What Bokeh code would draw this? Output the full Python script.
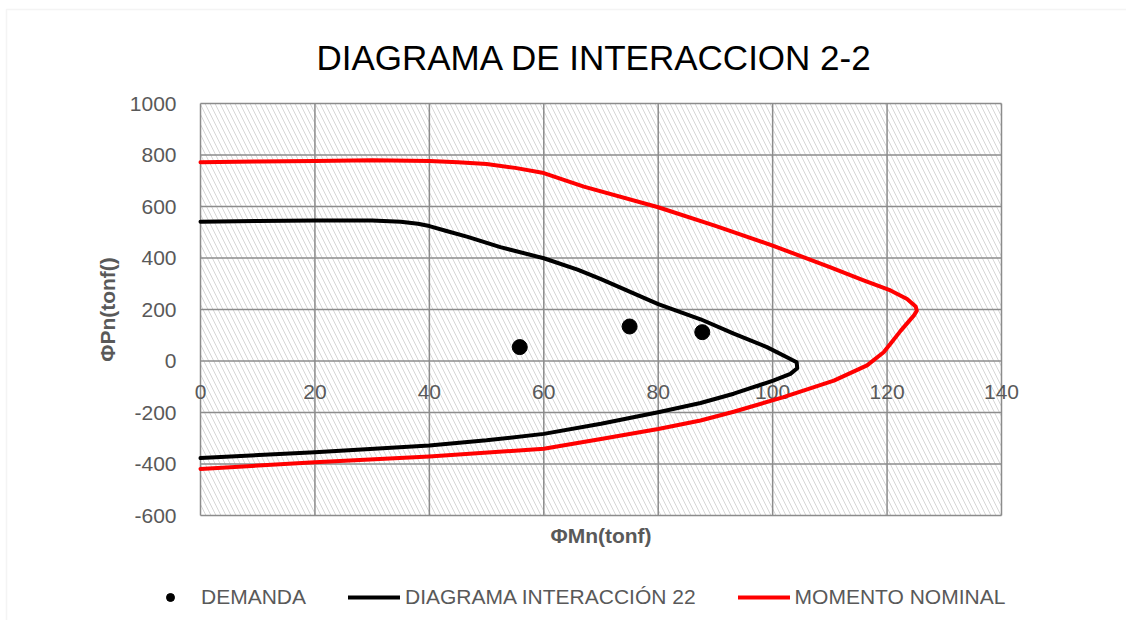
import math
from bokeh.plotting import figure
from bokeh.models import Range1d, BoxAnnotation, Legend, LegendItem
from bokeh.embed import file_html
from bokeh.resources import INLINE
from bokeh.core.properties import value

FONT = "Liberation Sans"
GRAY_TXT = "#595959"
GRID = "#8c8c8c"

# ---- data ----
x_ticks = [0, 20, 40, 60, 80, 100, 120, 140]
y_ticks = [-600, -400, -200, 0, 200, 400, 600, 800, 1000]

demanda_m = [55.8, 75.0, 87.7]
demanda_p = [54, 134, 112]

interaccion_m = [0, 10, 20, 30, 35, 38, 40, 43, 46.7, 52.4, 60, 65.9, 70, 80, 87.4, 93.2,
                 99.0, 103.1, 104.2, 104.3, 103.1, 100.1, 93.2, 87.4, 80, 70, 60, 50,
                 40, 20, 0]
interaccion_p = [541, 544, 546, 546, 541, 533, 524, 505, 482, 442, 399, 355, 318, 221, 162,
                 106, 54, 8, -5, -28, -50, -76, -127, -163, -199, -244, -283, -308,
                 -328, -354, -377]

nominal_m = [0, 10, 20, 30, 40, 45, 50, 55, 60, 67, 80, 90, 100, 110, 115.9, 120.6,
             123.5, 125.0, 125.2, 124.7, 122.4, 120.8, 119.4, 116.5, 110.7, 101.9,
             93.2, 87.4, 80, 70, 60, 40, 20, 0]
nominal_p = [772, 775, 777, 780, 777, 772, 765, 750, 730, 677, 597, 525, 448, 365, 313, 274,
             241, 212, 195, 177, 118, 73, 34, -17, -76, -140,
             -197, -231, -264, -303, -341, -371, -393, -419]

title_text = "DIAGRAMA DE INTERACCION 2-2"
x_title = "ΦMn(tonf)"
y_title = "ΦPn(tonf()"
legend_labels = ["DEMANDA", "DIAGRAMA INTERACCIÓN 22", "MOMENTO NOMINAL"]

# ---- layout geometry (pixels) ----
W, H = 1126, 620
PL, PR, PT, PB = 200, 1001, 103, 515       # plot-area box on the canvas
X0, X1 = x_ticks[0], x_ticks[-1]
Y0, Y1 = y_ticks[0], y_ticks[-1]
kx = (X1 - X0) / (PR - PL)
ky = (Y1 - Y0) / (PB - PT)
XS, XE = X0 - PL * kx, X0 + (W - PL) * kx
YE, YS = Y1 + PT * ky, Y1 - (H - PT) * ky

p = figure(width=W, height=H, x_range=Range1d(XS, XE), y_range=Range1d(YS, YE),
           output_backend="svg", toolbar_location=None, title=None,
           x_axis_location=None, y_axis_location=None,
           min_border_left=0, min_border_right=0, min_border_top=0, min_border_bottom=0)
p.grid.visible = False
p.outline_line_color = None

# faint chart-area border (Excel), left/top edges visible
p.add_layout(BoxAnnotation(left=XS + 6 * kx, right=XE + 20 * kx,
                           top=YE - 9 * ky, bottom=YS - 20 * ky,
                           fill_color=None, line_color="#d9d9d9", line_width=1.5,
                           level="image"))

# hatched plot area
p.add_layout(BoxAnnotation(left=X0, right=X1, bottom=Y0, top=Y1,
                           fill_color=None, line_color=None,
                           hatch_pattern="\\", hatch_color="#d6d6d6",
                           hatch_scale=10, hatch_weight=1, level="image"))

# gridlines (incl. plot-area edges)
p.segment(x0=x_ticks, y0=[Y0] * len(x_ticks), x1=x_ticks, y1=[Y1] * len(x_ticks),
          line_color=GRID, line_width=1.5)
p.segment(x0=[X0] * len(y_ticks), y0=y_ticks, x1=[X1] * len(y_ticks), y1=y_ticks,
          line_color=GRID, line_width=1.5)

txt = dict(text_font=value(FONT), text_font_size="21px", text_color=GRAY_TXT)

# y tick labels
p.text(x=[X0] * len(y_ticks), y=y_ticks, text=[str(v) for v in y_ticks],
       text_align="right", text_baseline="middle", x_offset=-24, **txt)
# x tick labels crossing at y = 0
p.text(x=x_ticks, y=[0] * len(x_ticks), text=[str(v) for v in x_ticks],
       text_align="center", text_baseline="middle", y_offset=31, **txt)
# axis titles
p.text(x=[(X0 + X1) / 2], y=[Y0], text=[x_title], text_align="center",
       text_baseline="middle", y_offset=20, text_font_style="bold", **txt)
p.text(x=[X0], y=[(Y0 + Y1) / 2], text=[y_title], angle=math.pi / 2,
       text_align="center", text_baseline="middle", x_offset=-93,
       text_font_style="bold", **txt)
# chart title
p.text(x=[(X0 + X1) / 2], y=[Y1], text=[title_text], text_align="center",
       text_baseline="alphabetic", x_offset=-6.5, y_offset=-46,
       text_font=value(FONT), text_font_size="35px", text_color="black")

# series
r_int = p.line(interaccion_m, interaccion_p, line_color="black", line_width=4,
               line_join="round", line_cap="round")
r_nom = p.line(nominal_m, nominal_p, line_color="#ff0000", line_width=4,
               line_join="round", line_cap="round")
r_dem = p.scatter(demanda_m, demanda_p, size=15, color="black")

legend = Legend(items=[LegendItem(label=legend_labels[0], renderers=[r_dem]),
                       LegendItem(label=legend_labels[1], renderers=[r_int]),
                       LegendItem(label=legend_labels[2], renderers=[r_nom])],
                orientation="horizontal", location=(144, 11),
                glyph_width=52, glyph_height=20, label_standoff=5, spacing=42,
                padding=0, margin=0, border_line_color=None,
                background_fill_alpha=0,
                label_text_font=FONT, label_text_font_size="21px",
                label_text_color=GRAY_TXT)
p.add_layout(legend, "center")

open("out.html", "w").write(file_html(p, INLINE))
